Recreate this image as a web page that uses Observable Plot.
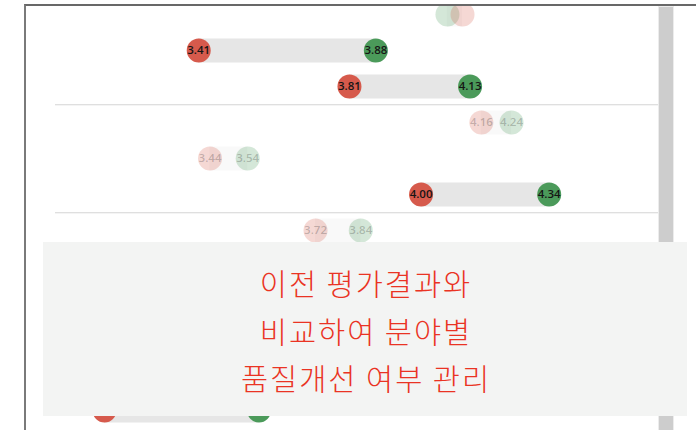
<!DOCTYPE html>
<html><head><meta charset="utf-8">
<script src="https://cdn.jsdelivr.net/npm/d3@7"></script>
<script src="https://cdn.jsdelivr.net/npm/@observablehq/plot@0.6"></script>
<style>
html,body{margin:0;padding:0;background:#fff;}
#wrap{position:relative;width:696px;height:430px;overflow:hidden;background:#fff;}
#panel{position:absolute;left:24px;top:4px;width:672px;height:426px;box-sizing:border-box;border-top:2px solid #686868;border-left:2px solid #7a7a7a;overflow:hidden;}
#panel svg{position:absolute;left:0;top:0;max-width:none;}
#scroll{position:absolute;left:659px;top:7px;width:14px;height:423px;background:#cdcdcd;box-shadow:0 0 0 1px #ececec;}
#note{position:absolute;left:43px;top:242px;width:644px;height:174px;box-sizing:border-box;padding-top:3px;padding-left:2px;background:#f3f4f3;color:#ea3323;font-family:"Noto Sans CJK KR","Noto Sans",sans-serif;font-size:29.5px;font-weight:300;letter-spacing:2px;line-height:47.5px;text-align:center;display:flex;flex-direction:column;justify-content:center;}
</style>
</head><body>
<div id="wrap">
  <div id="panel"></div>
  <div id="scroll"></div>
  <div id="note"></div>
</div>
<script>
// rows of the list (3 items per group); rows 3-2 .. 4-2 sit under the note box
const categories = ["1-1","1-2","1-3","2-1","2-2","2-3","3-1","3-2","3-3","4-1","4-2","4-3"];
const shownRows  = ["1-1","1-2","1-3","2-1","2-2","2-3","3-1","4-3"];
const previous   = [4.11, 3.41, 3.81, 4.16, 3.44, 4.00, 3.72, 3.16]; // red
const current    = [4.07, 3.88, 4.13, 4.24, 3.54, 4.34, 3.84, 3.57]; // green
const groupEnds  = ["1-3","2-3","3-3"];
const noteLines  = ["이전 평가결과와","비교하여 분야별","품질개선 여부 관리"];

const data = shownRows.map((c, i) => ({cat: c, prev: previous[i], curr: current[i], diff: current[i] - previous[i]}));
const op = d => Math.abs(d.diff) >= 0.2 ? 1 : 0.24;
const labelled = data.filter(d => Math.abs(d.diff) >= 0.06);

const chart = Plot.plot({
  width: 670,
  height: 424,
  marginLeft: 29,
  marginRight: 38,
  marginTop: 5.5,
  marginBottom: 17,
  style: {background: "transparent"},
  x: {domain: [3.03, 4.63], axis: null},
  y: {type: "point", domain: categories, padding: 0, axis: null},
  marks: [
    Plot.ruleY(groupEnds, {y: d => d, dy: 18.25, stroke: "#d4d4d4", strokeWidth: 1}),
    Plot.ruleY(data, {y: "cat", x1: "prev", x2: "curr", stroke: "#e6e6e6", strokeWidth: 24, strokeOpacity: op}),
    Plot.dot(data, {x: "curr", y: "cat", r: 12, fill: "#4b9a5a", fillOpacity: op}),
    Plot.dot(data, {x: "prev", y: "cat", r: 12, fill: "#d65a4c", fillOpacity: op}),
    Plot.text(labelled, {x: "prev", y: "cat", text: d => d.prev.toFixed(2), fill: "#151515", fillOpacity: op, fontSize: 11.5, fontWeight: 600, fontFamily: "Open Sans"}),
    Plot.text(labelled, {x: "curr", y: "cat", text: d => d.curr.toFixed(2), fill: "#151515", fillOpacity: op, fontSize: 11.5, fontWeight: 600, fontFamily: "Open Sans"})
  ]
});
document.getElementById("panel").appendChild(chart);
const note = document.getElementById("note");
noteLines.forEach(t => { const div = document.createElement("div"); div.textContent = t; note.appendChild(div); });
</script>
</body></html>
